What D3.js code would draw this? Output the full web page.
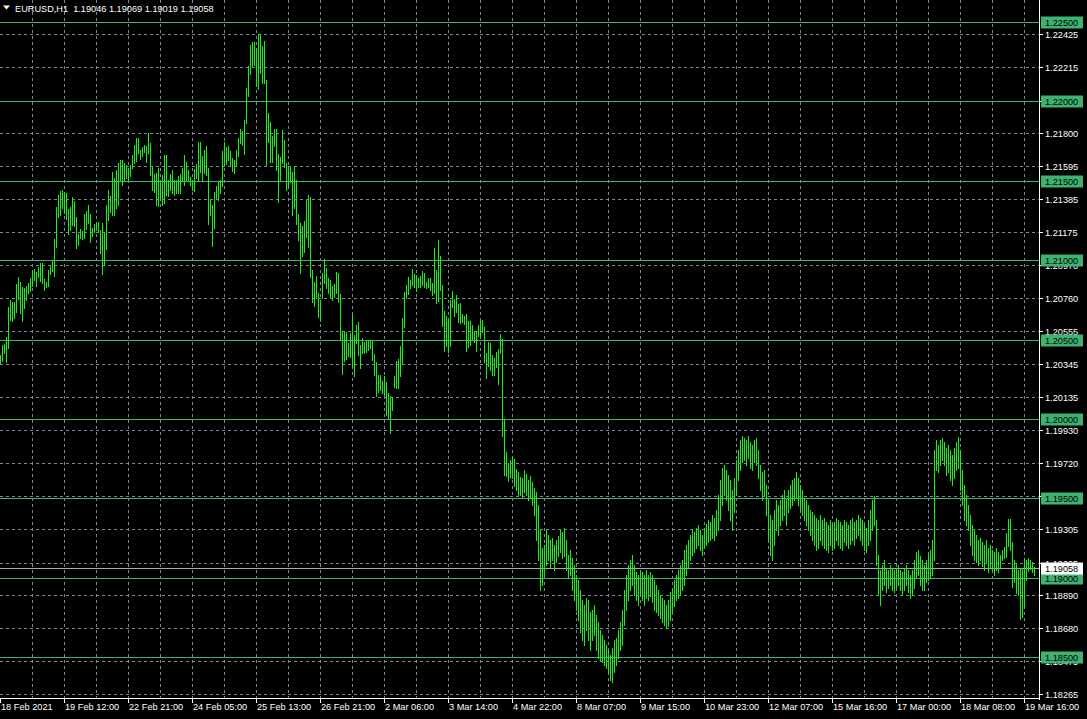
<!DOCTYPE html>
<html><head><meta charset="utf-8">
<script src="https://cdn.jsdelivr.net/npm/d3@7"></script>
<style>
body{margin:0;background:#000;}
svg{display:block}
text{font-family:"Liberation Sans",Arial,sans-serif;font-size:9.2px;}
</style>
</head><body>
<svg id="chart" width="1087" height="719"></svg>
<script>
// ---------- data ----------
const symbolTitle = "EURUSD,H1";
const lastOHLC = ["1.19046", "1.19069", "1.19019", "1.19058"];
const bidPrice = 1.19058;
const timeLabels = ["18 Feb 2021","19 Feb 12:00","22 Feb 21:00","24 Feb 05:00","25 Feb 13:00","26 Feb 21:00",
  "2 Mar 06:00","3 Mar 14:00","4 Mar 22:00","8 Mar 07:00","9 Mar 15:00","10 Mar 23:00","12 Mar 07:00",
  "15 Mar 16:00","17 Mar 00:00","18 Mar 08:00","19 Mar 16:00"];
const priceTicks = ["1.22425","1.22215","1.22005","1.21800","1.21595","1.21385","1.21175","1.20970","1.20760",
  "1.20555","1.20345","1.20135","1.19930","1.19720","1.19515","1.19305","1.19095","1.18890","1.18680",
  "1.18475","1.18265"];
const levelLines = [1.225, 1.220, 1.215, 1.210, 1.205, 1.200, 1.195, 1.190, 1.185];
// hourly bars: [high, low]
const hl = [
 [1.20403,1.20352],[1.20466,1.20365],[1.20472,1.20415],[1.20516,1.20358],[1.20705,1.20447],[1.20749,1.20623],[1.20736,1.20617],[1.20736,1.20636],
 [1.20850,1.20673],[1.20894,1.20755],[1.20862,1.20667],[1.20831,1.20617],[1.20825,1.20699],[1.20837,1.20749],[1.20856,1.20793],[1.20888,1.20806],
 [1.20932,1.20837],[1.20944,1.20875],[1.20925,1.20837],[1.20957,1.20894],[1.20982,1.20869],[1.20982,1.20856],[1.20881,1.20812],[1.20862,1.20831],
 [1.20938,1.20837],[1.20963,1.20913],[1.20995,1.20932],[1.21133,1.20900],[1.21335,1.21083],[1.21411,1.21272],[1.21436,1.21285],[1.21442,1.21329],
 [1.21429,1.21297],[1.21423,1.21259],[1.21322,1.21165],[1.21335,1.21190],[1.21398,1.21221],[1.21373,1.21215],[1.21272,1.21077],[1.21165,1.21096],
 [1.21196,1.21140],[1.21184,1.21133],[1.21291,1.21140],[1.21310,1.21196],[1.21348,1.21234],[1.21291,1.21114],[1.21203,1.21152],[1.21228,1.21177],
 [1.21240,1.21190],[1.21240,1.21177],[1.21190,1.21045],[1.21234,1.20913],[1.21177,1.20970],[1.21348,1.21070],[1.21442,1.21253],[1.21404,1.21303],
 [1.21555,1.21285],[1.21518,1.21285],[1.21568,1.21329],[1.21612,1.21348],[1.21631,1.21505],[1.21631,1.21474],[1.21612,1.21505],[1.21600,1.21518],
 [1.21581,1.21499],[1.21600,1.21530],[1.21663,1.21581],[1.21726,1.21612],[1.21770,1.21625],[1.21770,1.21675],[1.21694,1.21637],[1.21713,1.21656],
 [1.21726,1.21681],[1.21719,1.21618],[1.21801,1.21675],[1.21738,1.21537],[1.21587,1.21442],[1.21543,1.21429],[1.21549,1.21348],[1.21581,1.21341],
 [1.21505,1.21379],[1.21537,1.21348],[1.21663,1.21360],[1.21663,1.21411],[1.21505,1.21404],[1.21543,1.21442],[1.21568,1.21423],[1.21505,1.21411],
 [1.21505,1.21423],[1.21530,1.21423],[1.21543,1.21423],[1.21581,1.21499],[1.21663,1.21474],[1.21618,1.21505],[1.21568,1.21499],[1.21524,1.21474],
 [1.21505,1.21442],[1.21574,1.21436],[1.21606,1.21518],[1.21744,1.21505],[1.21744,1.21555],[1.21656,1.21499],[1.21694,1.21549],[1.21719,1.21537],
 [1.21581,1.21228],[1.21379,1.21285],[1.21348,1.21089],[1.21429,1.21203],[1.21467,1.21392],[1.21499,1.21379],[1.21505,1.21423],[1.21688,1.21467],
 [1.21744,1.21600],[1.21713,1.21606],[1.21719,1.21631],[1.21688,1.21600],[1.21644,1.21562],[1.21631,1.21549],[1.21694,1.21593],[1.21770,1.21656],
 [1.21826,1.21738],[1.21814,1.21726],[1.21883,1.21669],[1.22085,1.21864],[1.22223,1.22034],[1.22356,1.22173],[1.22374,1.22223],[1.22374,1.22230],
 [1.22337,1.22097],[1.22425,1.22078],[1.22425,1.22179],[1.22349,1.22116],[1.22381,1.22116],[1.22135,1.21600],[1.21927,1.21744],[1.21870,1.21618],
 [1.21782,1.21618],[1.21826,1.21719],[1.21826,1.21568],[1.21669,1.21366],[1.21650,1.21505],[1.21820,1.21612],[1.21757,1.21587],[1.21612,1.21442],
 [1.21593,1.21461],[1.21587,1.21492],[1.21555,1.21285],[1.21593,1.21329],[1.21505,1.21228],[1.21291,1.21127],[1.21234,1.20919],[1.21215,1.21026],
 [1.21247,1.21051],[1.21379,1.21146],[1.21411,1.21083],[1.21398,1.20894],[1.20938,1.20736],[1.20862,1.20711],[1.20900,1.20762],[1.20793,1.20642],
 [1.20749,1.20617],[1.20919,1.20762],[1.21007,1.20856],[1.20951,1.20825],[1.20888,1.20793],[1.20875,1.20762],[1.20837,1.20749],[1.20850,1.20768],
 [1.20925,1.20793],[1.20919,1.20736],[1.20787,1.20497],[1.20554,1.20283],[1.20547,1.20365],[1.20547,1.20377],[1.20478,1.20396],[1.20541,1.20390],
 [1.20655,1.20327],[1.20529,1.20270],[1.20592,1.20478],[1.20610,1.20403],[1.20466,1.20321],[1.20510,1.20415],[1.20484,1.20415],[1.20491,1.20421],
 [1.20497,1.20434],[1.20497,1.20447],[1.20491,1.20371],[1.20409,1.20277],[1.20358,1.20144],[1.20277,1.20169],[1.20277,1.20182],[1.20239,1.20163],
 [1.20270,1.20151],[1.20232,1.20025],[1.20163,1.20006],[1.20144,1.19911],[1.20138,1.20056],[1.20270,1.20201],[1.20365,1.20195],[1.20377,1.20195],
 [1.20459,1.20270],[1.20636,1.20346],[1.20799,1.20579],[1.20844,1.20762],[1.20894,1.20787],[1.20875,1.20825],[1.20944,1.20844],[1.20913,1.20831],
 [1.20907,1.20806],[1.20888,1.20831],[1.20900,1.20831],[1.20932,1.20844],[1.20919,1.20831],[1.20862,1.20825],[1.20888,1.20831],[1.20888,1.20812],
 [1.20856,1.20781],[1.21077,1.20793],[1.20938,1.20730],[1.21127,1.20743],[1.21026,1.20812],[1.20844,1.20585],[1.20680,1.20428],[1.20648,1.20459],
 [1.20636,1.20421],[1.20749,1.20459],[1.20806,1.20705],[1.20755,1.20648],[1.20781,1.20673],[1.20724,1.20610],[1.20730,1.20604],[1.20661,1.20610],
 [1.20648,1.20598],[1.20661,1.20428],[1.20617,1.20453],[1.20617,1.20466],[1.20592,1.20497],[1.20554,1.20484],[1.20554,1.20428],[1.20592,1.20522],
 [1.20623,1.20516],[1.20623,1.20547],[1.20579,1.20358],[1.20415,1.20258],[1.20484,1.20333],[1.20478,1.20308],[1.20403,1.20277],[1.20384,1.20277],
 [1.20421,1.20327],[1.20440,1.20220],[1.20535,1.20415],[1.20503,1.19892],[1.19999,1.19647],[1.19791,1.19640],[1.19722,1.19609],[1.19741,1.19634],
 [1.19760,1.19628],[1.19747,1.19577],[1.19684,1.19552],[1.19665,1.19520],[1.19634,1.19520],
 [1.19628,1.19508],[1.19678,1.19539],[1.19653,1.19520],[1.19615,1.19489],[1.19640,1.19502],[1.19602,1.19457],[1.19565,1.19395],
 [1.19539,1.19237],[1.19457,1.19111],[1.19300,1.18922],[1.19187,1.18954],[1.19206,1.19017],[1.19300,1.19080],[1.19269,1.19111],[1.19237,1.19061],
 [1.19250,1.19111],[1.19206,1.19048],[1.19237,1.19098],[1.19262,1.19136],[1.19300,1.19161],[1.19287,1.19124],[1.19313,1.19136],[1.19237,1.19048],
 [1.19143,1.18998],[1.19174,1.19017],[1.19124,1.18922],[1.19080,1.18859],[1.19017,1.18796],[1.18985,1.18733],[1.18922,1.18657],[1.18859,1.18607],
 [1.18828,1.18576],[1.18872,1.18670],[1.18859,1.18607],[1.18783,1.18544],[1.18796,1.18607],[1.18828,1.18639],[1.18764,1.18544],[1.18720,1.18494],
 [1.18670,1.18481],[1.18639,1.18469],[1.18607,1.18450],[1.18576,1.18431],[1.18544,1.18406],[1.18513,1.18355],[1.18557,1.18343],[1.18607,1.18406],
 [1.18620,1.18450],[1.18670,1.18494],[1.18720,1.18544],[1.18796,1.18576],[1.18922,1.18702],[1.19017,1.18796],[1.19080,1.18859],[1.19111,1.18922],
 [1.19143,1.18954],[1.19080,1.18891],[1.19035,1.18859],[1.19017,1.18828],[1.19048,1.18891],[1.19035,1.18859],[1.19017,1.18828],[1.19048,1.18872],
 [1.19017,1.18859],[1.19035,1.18884],[1.19017,1.18847],[1.18985,1.18796],[1.18954,1.18783],[1.18922,1.18764],[1.18891,1.18746],[1.18872,1.18720],
 [1.18859,1.18702],[1.18828,1.18683],[1.18859,1.18695],[1.18909,1.18733],[1.18935,1.18783],[1.18985,1.18821],[1.19017,1.18859],[1.19048,1.18872],
 [1.19080,1.18891],[1.19111,1.18922],[1.19174,1.18954],[1.19206,1.19017],[1.19237,1.19061],[1.19269,1.19111],[1.19300,1.19143],[1.19287,1.19161],
 [1.19313,1.19187],[1.19332,1.19206],[1.19300,1.19174],[1.19269,1.19143],[1.19313,1.19187],[1.19338,1.19206],[1.19363,1.19224],[1.19350,1.19237],
 [1.19395,1.19250],[1.19376,1.19237],[1.19426,1.19269],[1.19520,1.19300],[1.19615,1.19363],[1.19691,1.19457],[1.19709,1.19520],[1.19678,1.19489],
 [1.19647,1.19426],[1.19615,1.19363],[1.19552,1.19300],[1.19628,1.19413],[1.19741,1.19520],[1.19804,1.19615],[1.19867,1.19678],[1.19892,1.19728],
 [1.19880,1.19741],[1.19867,1.19709],[1.19892,1.19754],[1.19855,1.19691],[1.19836,1.19678],[1.19867,1.19728],[1.19880,1.19709],[1.19804,1.19628],
 [1.19709,1.19552],[1.19665,1.19489],[1.19678,1.19520],[1.19584,1.19395],[1.19489,1.19237],[1.19395,1.19143],[1.19363,1.19111],[1.19426,1.19206],
 [1.19489,1.19300],[1.19457,1.19269],[1.19489,1.19332],[1.19520,1.19363],[1.19552,1.19395],[1.19502,1.19332],[1.19552,1.19413],[1.19584,1.19439],
 [1.19615,1.19457],[1.19628,1.19489],[1.19665,1.19502],[1.19628,1.19457],[1.19584,1.19426],[1.19552,1.19395],[1.19502,1.19363],[1.19489,1.19332],
 [1.19457,1.19300],[1.19426,1.19269],[1.19413,1.19237],[1.19395,1.19206],[1.19376,1.19174],[1.19363,1.19187],[1.19395,1.19237],[1.19363,1.19206],
 [1.19376,1.19187],[1.19350,1.19174],[1.19332,1.19161],[1.19363,1.19206],[1.19332,1.19174],[1.19350,1.19187],[1.19376,1.19237],[1.19363,1.19206],
 [1.19350,1.19187],[1.19332,1.19174],[1.19363,1.19224],[1.19350,1.19206],[1.19332,1.19187],[1.19363,1.19212],[1.19376,1.19237],[1.19350,1.19206],
 [1.19363,1.19250],[1.19395,1.19269],[1.19376,1.19237],[1.19363,1.19206],[1.19332,1.19174],[1.19313,1.19161],[1.19363,1.19206],[1.19426,1.19237],
 [1.19489,1.19300],[1.19514,1.19332],[1.19363,1.19080],[1.19143,1.18891],[1.19048,1.18828],[1.19080,1.18922],[1.19111,1.18954],[1.19061,1.18909],
 [1.19048,1.18935],[1.19080,1.18954],[1.19061,1.18922],[1.19048,1.18909],[1.19061,1.18935],[1.19080,1.18954],[1.19048,1.18922],[1.19035,1.18891],
 [1.19061,1.18922],[1.19080,1.18954],[1.19048,1.18909],[1.19017,1.18872],[1.19048,1.18891],[1.19111,1.18935],[1.19161,1.18998],[1.19174,1.19017],
 [1.19136,1.18954],[1.19111,1.18922],[1.19080,1.18922],[1.19111,1.18973],[1.19143,1.18985],[1.19174,1.18998],[1.19237,1.19017],[1.19804,1.19111],
 [1.19867,1.19678],[1.19836,1.19665],[1.19867,1.19709],[1.19880,1.19741],[1.19855,1.19709],[1.19817,1.19647],[1.19836,1.19665],[1.19804,1.19615],
 [1.19772,1.19584],[1.19817,1.19628],[1.19855,1.19678],[1.19886,1.19691],[1.19804,1.19552],[1.19678,1.19457],[1.19584,1.19363],[1.19520,1.19332],
 [1.19457,1.19300],[1.19395,1.19206],[1.19332,1.19143],[1.19300,1.19111],[1.19269,1.19098],[1.19237,1.19080],[1.19250,1.19111],[1.19224,1.19073],
 [1.19206,1.19048],[1.19237,1.19098],[1.19187,1.19035],[1.19206,1.19061],[1.19174,1.19048],[1.19161,1.19017],[1.19187,1.19048],[1.19161,1.19035],
 [1.19143,1.19061],[1.19174,1.19111],[1.19193,1.19124],[1.19281,1.19130],[1.19369,1.19199],[1.19369,1.19174],[1.19224,1.18941],[1.19111,1.18973],
 [1.19092,1.18903],[1.19048,1.18891],[1.19061,1.18739],[1.19054,1.18752],[1.19124,1.18809],[1.19111,1.18985],[1.19124,1.19042],[1.19111,1.19054],
 [1.19098,1.19035],[1.19069,1.19019]
];

// ---------- layout ----------
const W = 1087, H = 719;
const plotRight = 1040, plotBottom = 699;
const barsPerLabel = 32, barsPerGrid = 16;
const svg = d3.select("#chart");
svg.append("rect").attr("width", W).attr("height", H).attr("fill", "#000");

const y = d3.scaleLinear().domain([1.185, 1.225]).range([657, 22]);
const x = d3.scaleLinear().domain([0, 1]).range([0, 2]);   // bar index -> px
const py = v => Math.round(y(v)) + 0.5;

const gridColor = "#778899";
const lineColor = "#3CB371";

// horizontal grid
svg.append("g").selectAll("line").data(priceTicks).join("line")
  .attr("x1", 0).attr("x2", plotRight - 1)
  .attr("y1", d => py(+d)).attr("y2", d => py(+d))
  .attr("stroke", gridColor).attr("stroke-dasharray", "3,3").attr("shape-rendering", "crispEdges");

// vertical grid
const nGrid = Math.floor((plotRight - 1) / x(barsPerGrid));
svg.append("g").selectAll("line").data(d3.range(1, nGrid + 1)).join("line")
  .attr("x1", d => x(d * barsPerGrid) + 0.5).attr("x2", d => x(d * barsPerGrid) + 0.5)
  .attr("y1", 0).attr("y2", plotBottom)
  .attr("stroke", gridColor).attr("stroke-dasharray", "3,3").attr("shape-rendering", "crispEdges");

// level lines
svg.append("g").selectAll("line").data(levelLines).join("line")
  .attr("x1", 0).attr("x2", plotRight)
  .attr("y1", d => py(d)).attr("y2", d => py(d))
  .attr("stroke", lineColor).attr("shape-rendering", "crispEdges");

// bid line
svg.append("line").attr("x1", 0).attr("x2", plotRight)
  .attr("y1", py(bidPrice)).attr("y2", py(bidPrice))
  .attr("stroke", "#A9A9A9").attr("shape-rendering", "crispEdges");

// bars
svg.append("g").selectAll("rect").data(hl).join("rect")
  .attr("x", (d, i) => x(i)).attr("width", 1)
  .attr("y", d => Math.round(y(d[0])))
  .attr("height", d => Math.max(1, Math.round(y(d[1])) - Math.round(y(d[0])) + 1))
  .attr("fill", "#00FF00").attr("shape-rendering", "crispEdges");

// axes frame
svg.append("line").attr("x1", plotRight - 0.5).attr("x2", plotRight - 0.5).attr("y1", 0).attr("y2", plotBottom + 1)
  .attr("stroke", "#fff").attr("shape-rendering", "crispEdges");
svg.append("line").attr("x1", 0).attr("x2", plotRight).attr("y1", plotBottom - 0.5).attr("y2", plotBottom - 0.5)
  .attr("stroke", "#fff").attr("shape-rendering", "crispEdges");

// price axis ticks + labels
const pa = svg.append("g");
pa.selectAll("line").data(priceTicks).join("line")
  .attr("x1", plotRight).attr("x2", plotRight + 3)
  .attr("y1", d => py(+d)).attr("y2", d => py(+d)).attr("stroke", "#fff").attr("shape-rendering", "crispEdges");
pa.selectAll("text").data(priceTicks).join("text")
  .attr("x", plotRight + 5).attr("y", d => py(+d) + 3.5).attr("fill", "#fff").text(d => d);

// time axis
const ta = svg.append("g");
ta.selectAll("line").data(timeLabels).join("line")
  .attr("x1", (d, i) => x(i * barsPerLabel) + 0.5).attr("x2", (d, i) => x(i * barsPerLabel) + 0.5)
  .attr("y1", plotBottom).attr("y2", plotBottom + 4).attr("stroke", "#fff").attr("shape-rendering", "crispEdges");
ta.selectAll("text").data(timeLabels).join("text")
  .attr("x", (d, i) => x(i * barsPerLabel) + 1).attr("y", plotBottom + 10.5).attr("fill", "#fff").text(d => d);

// level labels
const ll = svg.append("g");
ll.selectAll("rect").data(levelLines).join("rect")
  .attr("x", plotRight + 1).attr("width", 42).attr("y", d => py(d) - 6).attr("height", 12).attr("fill", lineColor);
ll.selectAll("text").data(levelLines).join("text")
  .attr("x", plotRight + 5).attr("y", d => py(d) + 3.5).attr("fill", "#000").text(d => d.toFixed(5));

// bid label
svg.append("rect").attr("x", plotRight + 1).attr("width", 42).attr("y", py(bidPrice) - 6).attr("height", 12).attr("fill", "#fff");
svg.append("text").attr("x", plotRight + 5).attr("y", py(bidPrice) + 3.5).attr("fill", "#000").text(bidPrice.toFixed(5));

// header
svg.append("path").attr("d", "M3,5.5L10,5.5L6.5,9.5Z").attr("fill", "#fff");
svg.append("text").attr("x", 15).attr("y", 11.5).attr("fill", "#fff")
  .text(symbolTitle + "  " + lastOHLC.join(" ")).attr("xml:space", "preserve").style("white-space", "pre");
</script>
</body></html>
